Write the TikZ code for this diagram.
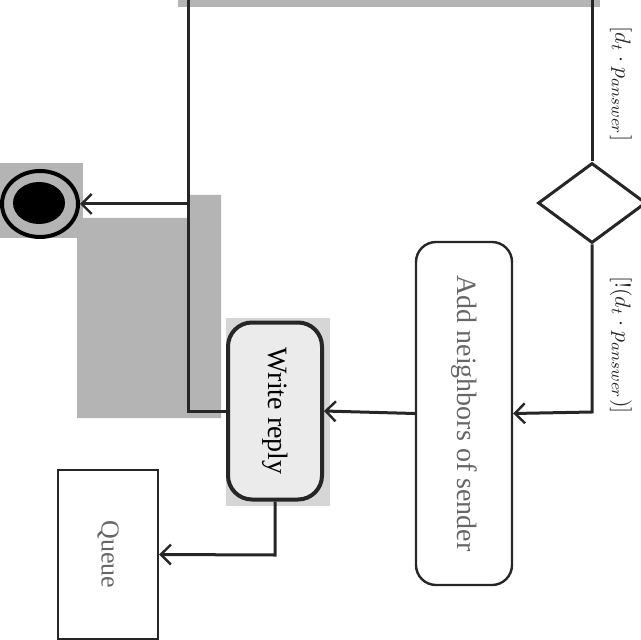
\documentclass[tikz,border=0pt]{standalone}
\usepackage{fontspec}
\setmainfont{Liberation Serif}
\usetikzlibrary{arrows.meta,shapes.geometric}
\definecolor{greyshade}{HTML}{B4B4B4}
\definecolor{lightgreyshade}{HTML}{D6D6D6}
\definecolor{boxfill}{HTML}{EBEBEB}
\begin{document}
\begin{tikzpicture}[x=0.5pt,y=-0.5pt,
  line/.style={line width=1.5pt, draw=black!85},
  conn/.style={line, -{Straight Barb[length=5pt,width=10pt,line width=1.2pt]}},
  action/.style={draw=black!85, rotate=-90, rounded corners=10pt, font=\fontsize{14}{16}\selectfont, inner sep=0pt},
  guard/.style={rotate=-90, text=black!85, font=\fontsize{11}{13}\selectfont, inner sep=1pt}]
\useasboundingbox (0,0) rectangle (640,640);
% background shading
\fill[greyshade] (178,0) rectangle (600,7);
\fill[greyshade] (188,195) -- (221,195) -- (221,418) -- (77,418) -- (77,218) -- (188,218) -- cycle;
\fill[greyshade] (0,163) rectangle (83,238);
\fill[lightgreyshade] (226,318) rectangle (330,506);
% nodes
\node[ellipse, draw=black, line width=2pt, minimum width=38pt, minimum height=33pt, inner sep=0pt] (final) at (40,204) {};
\node[ellipse, fill=black, minimum width=26pt, minimum height=21pt, inner sep=0pt] (finaldot) at (39,203) {};
\node[action, line width=2pt, fill=boxfill, rounded corners=12pt, minimum width=88.5pt, minimum height=47pt] (write) at (275,411) {Write reply};
\node[action, line width=1.2pt, text=black!60, minimum width=171.5pt, minimum height=48pt] (add) at (464,413.5) {Add neighbors of sender};
\node[draw=black!85, line width=1.2pt, rotate=-90, text=black!60, font=\fontsize{13}{15}\selectfont, minimum width=84.5pt, minimum height=50pt] (queue) at (108,554.5) {Queue};
\node[diamond, draw=black!85, line width=1.5pt, minimum width=54pt, minimum height=40pt, inner sep=0pt] (dec) at (592,203) {};
% guards
\node[guard] (g1) at (621,84) {$\bigl[d_t\cdot p_{answer}\bigr]$};
\node[guard] (g2) at (621,345) {$\bigl[!(d_t\cdot p_{answer})\bigr]$};
% connectors
\coordinate (topL) at (188,0);
\coordinate (topR) at (592,0);
\coordinate (joinL) at (188,204);
\coordinate (cornerL) at (188,411);
\coordinate (cornerR) at (592,412);
\coordinate (cornerQ) at (275,555);
\draw[line] (topR) -- (dec.north);
\draw[conn] (dec.south) -- (cornerR) -- (add.north);
\draw[conn] (add.south) -- (write.north);
\draw[line] (topL) -- (cornerL) -- (write.south);
\draw[conn] (joinL) -- (final.east);
\draw[conn] (write.east) -- (cornerQ) -- (queue.north);
\end{tikzpicture}
\end{document}
